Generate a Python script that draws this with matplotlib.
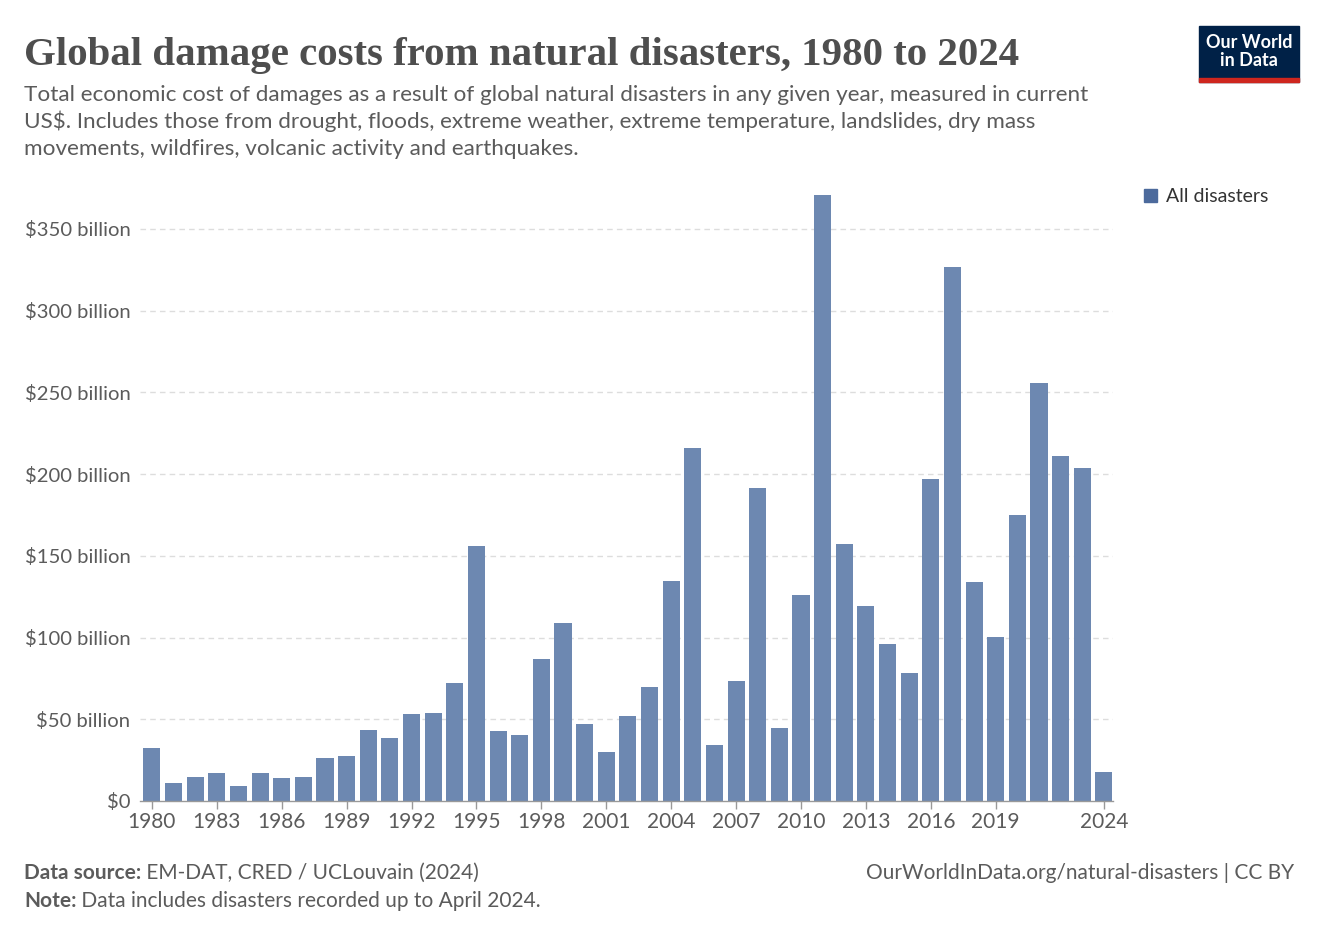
import numpy as np
import matplotlib.pyplot as plt
from matplotlib.patches import Rectangle

# Global damage costs, billions of current US$
years = np.arange(1980, 2025)
damages = [32.4, 11.0, 14.7, 17.1, 9.2, 17.1, 14.0, 14.7, 26.3, 27.5,
           43.5, 38.6, 53.2, 53.9, 72.2, 156.0, 42.8, 40.4, 86.9, 108.9,
           47.1, 30.0, 52.0, 69.8, 134.6, 216.0, 34.3, 73.4, 191.6, 44.7,
           126.0, 370.9, 157.3, 119.3, 96.0, 78.3, 197.0, 326.8, 134.0, 100.4,
           175.0, 255.8, 211.1, 203.8, 17.7]
y_ticks = [0, 50, 100, 150, 200, 250, 300, 350]
y_labels = ["$0"] + [f"${v} billion" for v in y_ticks[1:]]
x_ticks = [1980, 1983, 1986, 1989, 1992, 1995, 1998, 2001, 2004, 2007,
           2010, 2013, 2016, 2019, 2024]

W, H = 1324, 935
BAR = "#6d88b1"
GREY = "#5b5b5b"

plt.rcParams['font.family'] = ['Lato', 'DejaVu Sans']

fig = plt.figure(figsize=(W / 100, H / 100), dpi=100)


def fx(px):
    return px / W


def fy(py):
    return 1 - py / H


ax = fig.add_axes([fx(140), fy(801), fx(1113) - fx(140), fy(193) - fy(801)])
ax.bar(years, damages, width=0.79, color=BAR, zorder=2)
ax.set_xlim(1979.45, 2024.42)
ax.set_ylim(0, 372)

ax.set_yticks(y_ticks)
ax.set_yticklabels(y_labels)
ax.set_xticks(x_ticks)
ax.set_xticklabels([str(t) for t in x_ticks])
ax.tick_params(axis='y', length=0, pad=7, labelsize=14.6, labelcolor=GREY)
ax.tick_params(axis='x', length=6, width=1, color="#999999", pad=2,
               labelsize=15, labelcolor=GREY)

for v in y_ticks[1:]:
    ax.axhline(v, color="#dddddd", lw=1, ls=(0, (4, 3)), zorder=1)
for side in ['top', 'right', 'left']:
    ax.spines[side].set_visible(False)
ax.spines['bottom'].set_color("#999999")
ax.spines['bottom'].set_linewidth(1)

# title and subtitle
fig.text(fx(24), fy(65), "Global damage costs from natural disasters, 1980 to 2024",
         family=['Liberation Serif', 'DejaVu Serif'], fontsize=29.4, weight='bold',
         color="#4e4e4e", va='baseline')
subtitle = [
    "Total economic cost of damages as a result of global natural disasters in any given year, measured in current",
    "US$. Includes those from drought, floods, extreme weather, extreme temperature, landslides, dry mass",
    "movements, wildfires, volcanic activity and earthquakes.",
]
for i, line in enumerate(subtitle):
    fig.text(fx(24), fy(101 + 27 * i), line, fontsize=16.2, color=GREY, va='baseline')

# logo
fig.patches.append(Rectangle((fx(1199), fy(82)), fx(1299) - fx(1199), fy(26) - fy(82),
                             transform=fig.transFigure, color="#002147", zorder=5))
fig.patches.append(Rectangle((fx(1199), fy(82)), fx(1299) - fx(1199), fy(78) - fy(82),
                             transform=fig.transFigure, color="#ce261e", zorder=6))
fig.text(fx(1249), fy(43), "Our World", fontsize=13, color="white", weight='bold',
         ha='center', va='center', zorder=7)
fig.text(fx(1249), fy(61), "in Data", fontsize=13, color="white", weight='bold',
         ha='center', va='center', zorder=7)

# legend
fig.patches.append(Rectangle((fx(1144), fy(202)), fx(1157) - fx(1144), fy(189) - fy(202),
                             transform=fig.transFigure, color="#4c6a9c"))
fig.text(fx(1166), fy(196), "All disasters", fontsize=14, color="#333333", va='center')

# footer
src = fig.text(fx(24), fy(879), "Data source:", fontsize=15, weight='bold',
               color=GREY, va='baseline')
note = fig.text(fx(24), fy(907), "Note:", fontsize=15, weight='bold',
                color=GREY, va='baseline')
plt.annotate(" EM-DAT, CRED / UCLouvain (2024)", xy=(1, 0), xycoords=src,
             fontsize=15, color=GREY, va='bottom', annotation_clip=False)
plt.annotate(" Data includes disasters recorded up to April 2024.", xy=(1, 0), xycoords=note,
             fontsize=15, color=GREY, va='bottom', annotation_clip=False)
fig.text(fx(1294), fy(879), "OurWorldInData.org/natural-disasters | CC BY", fontsize=15,
         color=GREY, ha='right', va='baseline')

fig.savefig("out.png", dpi=100, facecolor="white")
